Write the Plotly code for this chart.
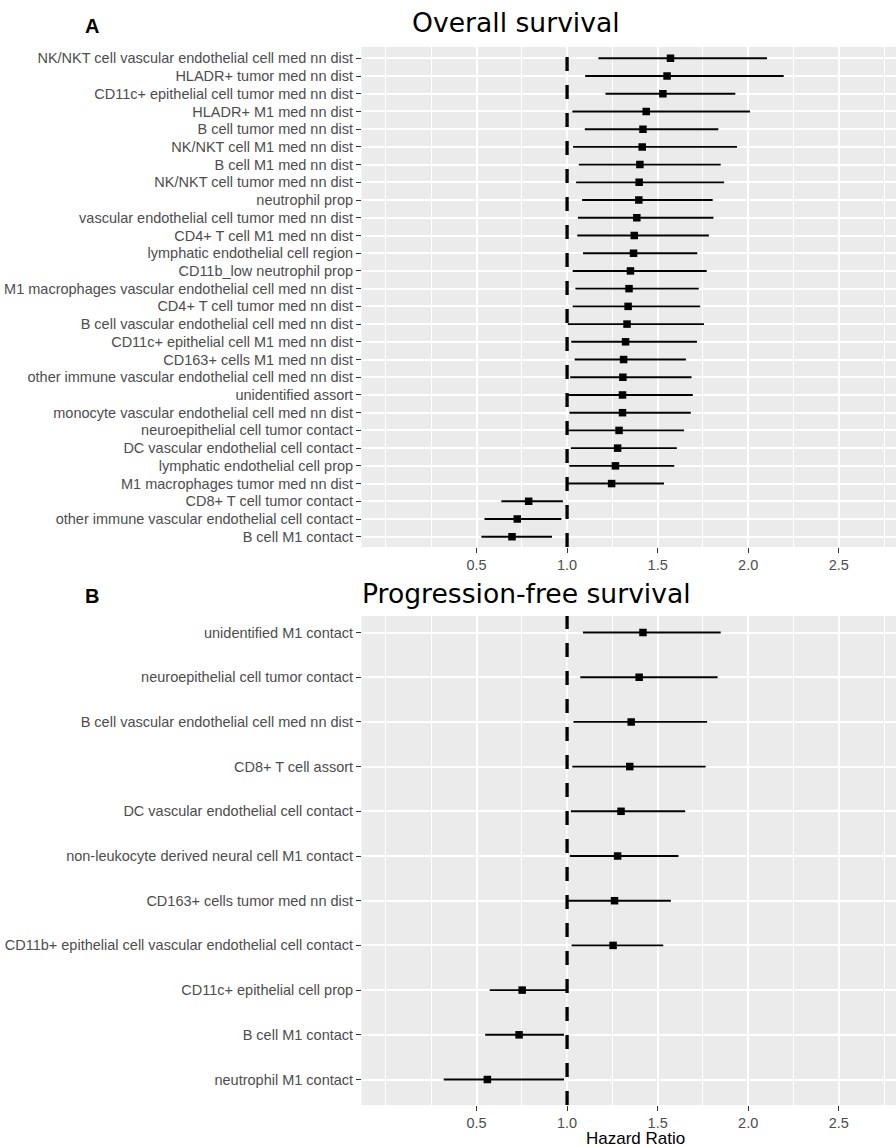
import plotly.graph_objects as go

# ---------------- data ----------------
os_labels = [
    "NK/NKT cell vascular endothelial cell med nn dist",
    "HLADR+ tumor med nn dist",
    "CD11c+ epithelial cell tumor med nn dist",
    "HLADR+ M1 med nn dist",
    "B cell tumor med nn dist",
    "NK/NKT cell M1 med nn dist",
    "B cell M1 med nn dist",
    "NK/NKT cell tumor med nn dist",
    "neutrophil prop",
    "vascular endothelial cell tumor med nn dist",
    "CD4+ T cell M1 med nn dist",
    "lymphatic endothelial cell region",
    "CD11b_low neutrophil prop",
    "M1 macrophages vascular endothelial cell med nn dist",
    "CD4+ T cell tumor med nn dist",
    "B cell vascular endothelial cell med nn dist",
    "CD11c+ epithelial cell M1 med nn dist",
    "CD163+ cells M1 med nn dist",
    "other immune vascular endothelial cell med nn dist",
    "unidentified assort",
    "monocyte vascular endothelial cell med nn dist",
    "neuroepithelial cell tumor contact",
    "DC vascular endothelial cell contact",
    "lymphatic endothelial cell prop",
    "M1 macrophages tumor med nn dist",
    "CD8+ T cell tumor contact",
    "other immune vascular endothelial cell contact",
    "B cell M1 contact",
]
os_hr = [1.571, 1.552, 1.529, 1.437, 1.419, 1.415, 1.402, 1.398, 1.396, 1.385,
         1.371, 1.367, 1.350, 1.342, 1.337, 1.331, 1.323, 1.312, 1.308, 1.306,
         1.306, 1.287, 1.279, 1.267, 1.246, 0.788, 0.725, 0.696]
os_lo = [1.173, 1.100, 1.212, 1.029, 1.098, 1.033, 1.065, 1.050, 1.083, 1.060,
         1.056, 1.088, 1.031, 1.046, 1.031, 1.004, 1.023, 1.042, 1.017, 1.004,
         1.013, 1.004, 1.021, 1.012, 1.004, 0.637, 0.544, 0.527]
os_hi = [2.104, 2.196, 1.929, 2.010, 1.835, 1.938, 1.848, 1.867, 1.804, 1.808,
         1.783, 1.719, 1.771, 1.727, 1.735, 1.756, 1.717, 1.656, 1.687, 1.694,
         1.683, 1.646, 1.606, 1.592, 1.535, 0.977, 0.969, 0.917]

pfs_labels = [
    "unidentified M1 contact",
    "neuroepithelial cell tumor contact",
    "B cell vascular endothelial cell med nn dist",
    "CD8+ T cell assort",
    "DC vascular endothelial cell contact",
    "non-leukocyte derived neural cell M1 contact",
    "CD163+ cells tumor med nn dist",
    "CD11b+ epithelial cell vascular endothelial cell contact",
    "CD11c+ epithelial cell prop",
    "B cell M1 contact",
    "neutrophil M1 contact",
]
pfs_hr = [1.419, 1.398, 1.354, 1.346, 1.298, 1.279, 1.262, 1.254, 0.752, 0.735, 0.560]
pfs_lo = [1.088, 1.073, 1.035, 1.029, 1.021, 1.015, 1.006, 1.025, 0.573, 0.548, 0.319]
pfs_hi = [1.848, 1.831, 1.773, 1.765, 1.652, 1.615, 1.573, 1.531, 1.000, 0.983, 0.983]

x_tickvals = [0.5, 1.0, 1.5, 2.0, 2.5]
x_ticktext = ["0.5", "1.0", "1.5", "2.0", "2.5"]
ref_hr = 1.0

# ---------------- layout helpers ----------------
W, H = 896, 1147


def px(xp):
    return xp / W


def py(yp):
    return 1 - yp / H


TICK_FONT = dict(family="Liberation Sans, Arial, sans-serif", size=14.5, color="#4D4D4D")
BG = "#EBEBEB"

fig = go.Figure()


def add_panel(labels, hr, lo, hi, xa, ya):
    fig.add_trace(go.Scatter(
        x=hr, y=labels, mode="markers",
        marker=dict(symbol="square", size=7.5, color="black"),
        error_x=dict(type="data", symmetric=False,
                     array=[h - p for h, p in zip(hi, hr)],
                     arrayminus=[p - l for p, l in zip(hr, lo)],
                     width=0, thickness=1.9, color="black"),
        xaxis=xa, yaxis=ya, showlegend=False,
    ))


add_panel(os_labels, os_hr, os_lo, os_hi, "x", "y")
add_panel(pfs_labels, pfs_hr, pfs_lo, pfs_hi, "x2", "y2")


def xaxis_cfg(anchor):
    return dict(
        domain=[px(361.5), 1.0], range=[-0.135, 2.816], anchor=anchor,
        tickmode="array", tickvals=x_tickvals, ticktext=x_ticktext,
        showgrid=True, gridcolor="white", gridwidth=1.8,
        minor=dict(tickmode="linear", tick0=0, dtick=0.25, showgrid=True,
                   gridcolor="white", gridwidth=0.9),
        ticks="outside", ticklen=4.5, tickwidth=1.3, tickcolor="#333333",
        tickfont=TICK_FONT, zeroline=False, showline=False, automargin=False,
        fixedrange=True,
    )


def yaxis_cfg(anchor, labels, dom, rng):
    return dict(
        domain=dom, anchor=anchor, type="category",
        categoryorder="array", categoryarray=labels, range=rng,
        showgrid=True, gridcolor="white", gridwidth=1.8,
        ticks="outside", ticklen=4.5, tickwidth=1.3, tickcolor="#333333",
        tickfont=TICK_FONT, zeroline=False, showline=False, automargin=False,
        fixedrange=True,
    )


fig.update_layout(
    width=W, height=H, autosize=False,
    margin=dict(l=0, r=0, t=0, b=0, pad=0),
    paper_bgcolor="white", plot_bgcolor=BG,
    xaxis=xaxis_cfg("y"),
    yaxis=yaxis_cfg("x", os_labels, [py(547), py(47)], [27.58, -0.638]),
    xaxis2=xaxis_cfg("y2"),
    yaxis2=yaxis_cfg("x2", pfs_labels, [py(1105), py(616)], [10.57, -0.369]),
    showlegend=False,
)

for xr, yr in (("x", "y domain"), ("x2", "y2 domain")):
    fig.add_shape(type="line", xref=xr, yref=yr, x0=ref_hr, x1=ref_hr, y0=0, y1=1,
                  line=dict(color="black", width=3.3, dash="14px,14px"), layer="above")

title_font = dict(family="DejaVu Sans, Verdana, sans-serif", size=26.6, color="black")
panel_font = dict(family="Liberation Sans, Arial, sans-serif", size=20, color="black")

annotations = [
    dict(text="<b>A</b>", x=px(92), y=py(25.7), xanchor="center", yanchor="middle", font=panel_font),
    dict(text="<b>B</b>", x=px(92), y=py(596), xanchor="center", yanchor="middle", font=panel_font),
    dict(text="Overall survival", x=px(410), y=py(22), xanchor="left", yanchor="middle", font=title_font),
    dict(text="Progression-free survival", x=px(360), y=py(593), xanchor="left", yanchor="middle", font=title_font),
    dict(text="Hazard Ratio", x=px(635), y=py(1138.5), xanchor="center", yanchor="middle",
         font=dict(family="Liberation Sans, Arial, sans-serif", size=17, color="black")),
]
for a in annotations:
    a.update(xref="paper", yref="paper", showarrow=False)
fig.update_layout(annotations=annotations)

fig.write_html(
    "out.html",
    config={"responsive": False, "displayModeBar": False},
    post_script="document.body.style.margin='0';document.body.style.overflow='hidden';",
)
